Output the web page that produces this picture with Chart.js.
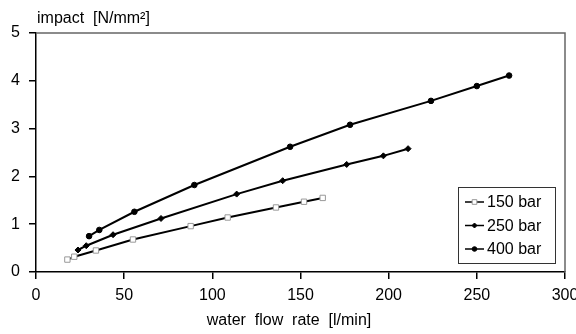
<!DOCTYPE html>
<html>
<head>
<meta charset="utf-8">
<script src="https://cdn.jsdelivr.net/npm/chart.js@4"></script>
<style>
  html, body { margin: 0; padding: 0; background: #fff; }
  #wrap { width: 576px; height: 334px; }
</style>
</head>
<body>
<div id="wrap"><canvas id="chart"></canvas></div>
<script>
const FONT = '"Liberation Sans", Arial, sans-serif';

const flow150 = [17.8, 21.7, 34.0, 55.0, 87.7, 108.7, 136.1, 152.0, 162.6];
const impact150 = [0.26, 0.32, 0.45, 0.68, 0.96, 1.14, 1.35, 1.47, 1.55];

const flow250 = [23.8, 28.5, 43.7, 70.9, 113.8, 139.9, 176.2, 197.0, 211.0];
const impact250 = [0.46, 0.55, 0.78, 1.12, 1.63, 1.91, 2.25, 2.43, 2.58];

const flow400 = [30.1, 35.9, 55.8, 89.8, 144.1, 178.1, 224.0, 250.0, 268.3];
const impact400 = [0.75, 0.88, 1.26, 1.82, 2.62, 3.08, 3.58, 3.89, 4.11];

const seriesLabels = ['150 bar', '250 bar', '400 bar'];
const xTicks = [0, 50, 100, 150, 200, 250, 300];
const yTicks = [0, 1, 2, 3, 4, 5];

function toPoints(xs, ys) {
    return xs.map((x, i) => ({ x: x, y: ys[i] }));
}

const datasets = [
    {
        label: seriesLabels[0],
        data: toPoints(flow150, impact150),
        borderColor: '#000',
        borderWidth: 2,
        pointStyle: 'rect',
        pointRadius: 3.8,
        pointBackgroundColor: '#fff',
        pointBorderColor: '#999',
        pointBorderWidth: 1,
    },
    {
        label: seriesLabels[1],
        data: toPoints(flow250, impact250),
        borderColor: '#000',
        borderWidth: 2,
        pointStyle: 'rectRot',
        pointRadius: 3,
        pointBackgroundColor: '#000',
        pointBorderColor: '#000',
        pointBorderWidth: 1,
    },
    {
        label: seriesLabels[2],
        data: toPoints(flow400, impact400),
        borderColor: '#000',
        borderWidth: 2,
        pointStyle: 'circle',
        pointRadius: 2.8,
        pointBackgroundColor: '#000',
        pointBorderColor: '#000',
        pointBorderWidth: 1,
    },
];

// frame, axis titles and the boxed legend inside the plot
const extras = {
    id: 'extras',
    afterDraw(chart) {
        const ctx = chart.ctx;
        const a = chart.chartArea;
        ctx.save();
        ctx.strokeStyle = '#666';
        ctx.lineWidth = 1.5;
        ctx.beginPath();
        ctx.moveTo(a.left, a.top);
        ctx.lineTo(a.right, a.top);
        ctx.lineTo(a.right, a.bottom);
        ctx.stroke();

        ctx.fillStyle = '#000';
        ctx.font = '16px ' + FONT;
        ctx.textBaseline = 'middle';
        ctx.textAlign = 'left';
        ctx.fillText('impact  [N/mm²]', 37, 19);
        ctx.textAlign = 'center';
        ctx.fillText('water  flow  rate  [l/min]', 289, 321);

        // legend
        const bx = 458, by = 187, bw = 97, bh = 76;
        ctx.fillStyle = '#fff';
        ctx.fillRect(bx, by, bw, bh);
        ctx.strokeStyle = '#333';
        ctx.lineWidth = 1;
        ctx.strokeRect(bx + 0.5, by + 0.5, bw, bh);
        chart.data.datasets.forEach((ds, i) => {
            const y = 202 + i * 23.5;
            ctx.strokeStyle = '#000';
            ctx.lineWidth = 1.5;
            ctx.beginPath();
            ctx.moveTo(465, y);
            ctx.lineTo(484, y);
            ctx.stroke();
            ctx.fillStyle = ds.pointBackgroundColor;
            ctx.strokeStyle = ds.pointBorderColor;
            ctx.lineWidth = 1;
            Chart.helpers.drawPoint(ctx, { pointStyle: ds.pointStyle, radius: ds.pointRadius - 0.5, borderWidth: 1 }, 474.5, y);
            ctx.fillStyle = '#000';
            ctx.textAlign = 'left';
            ctx.font = '16px ' + FONT;
            ctx.fillText(ds.label, 487, y + 1);
        });
        ctx.restore();
    }
};

new Chart(document.getElementById('chart'), {
    type: 'line',
    data: { datasets: datasets },
    options: {
        responsive: true,
        maintainAspectRatio: false,
        animation: false,
        layout: { padding: { top: 33, right: 11, left: 0, bottom: 0 } },
        plugins: { legend: { display: false }, tooltip: { enabled: false } },
        elements: { line: { tension: 0 } },
        scales: {
            x: {
                type: 'linear',
                min: 0,
                max: 300,
                afterBuildTicks: (s) => { s.ticks = xTicks.map(v => ({ value: v })); },
                afterFit: (s) => { s.height = 62; s.paddingLeft = 0; s.paddingRight = 0; },
                grid: { drawOnChartArea: false, tickLength: 7, color: '#000', lineWidth: 1.5 },
                border: { color: '#000', width: 1.5 },
                ticks: { color: '#000', font: { size: 16, family: FONT }, padding: 7, maxRotation: 0 },
            },
            y: {
                min: 0,
                max: 5,
                afterBuildTicks: (s) => { s.ticks = yTicks.map(v => ({ value: v })); },
                afterFit: (s) => { s.width = 36; s.paddingTop = 0; s.paddingBottom = 0; },
                grid: { drawOnChartArea: false, tickLength: 7, color: '#000', lineWidth: 1.5 },
                border: { color: '#000', width: 1.5 },
                ticks: { color: '#000', font: { size: 16, family: FONT }, padding: 9 },
            },
        },
    },
    plugins: [extras],
});
</script>
</body>
</html>
